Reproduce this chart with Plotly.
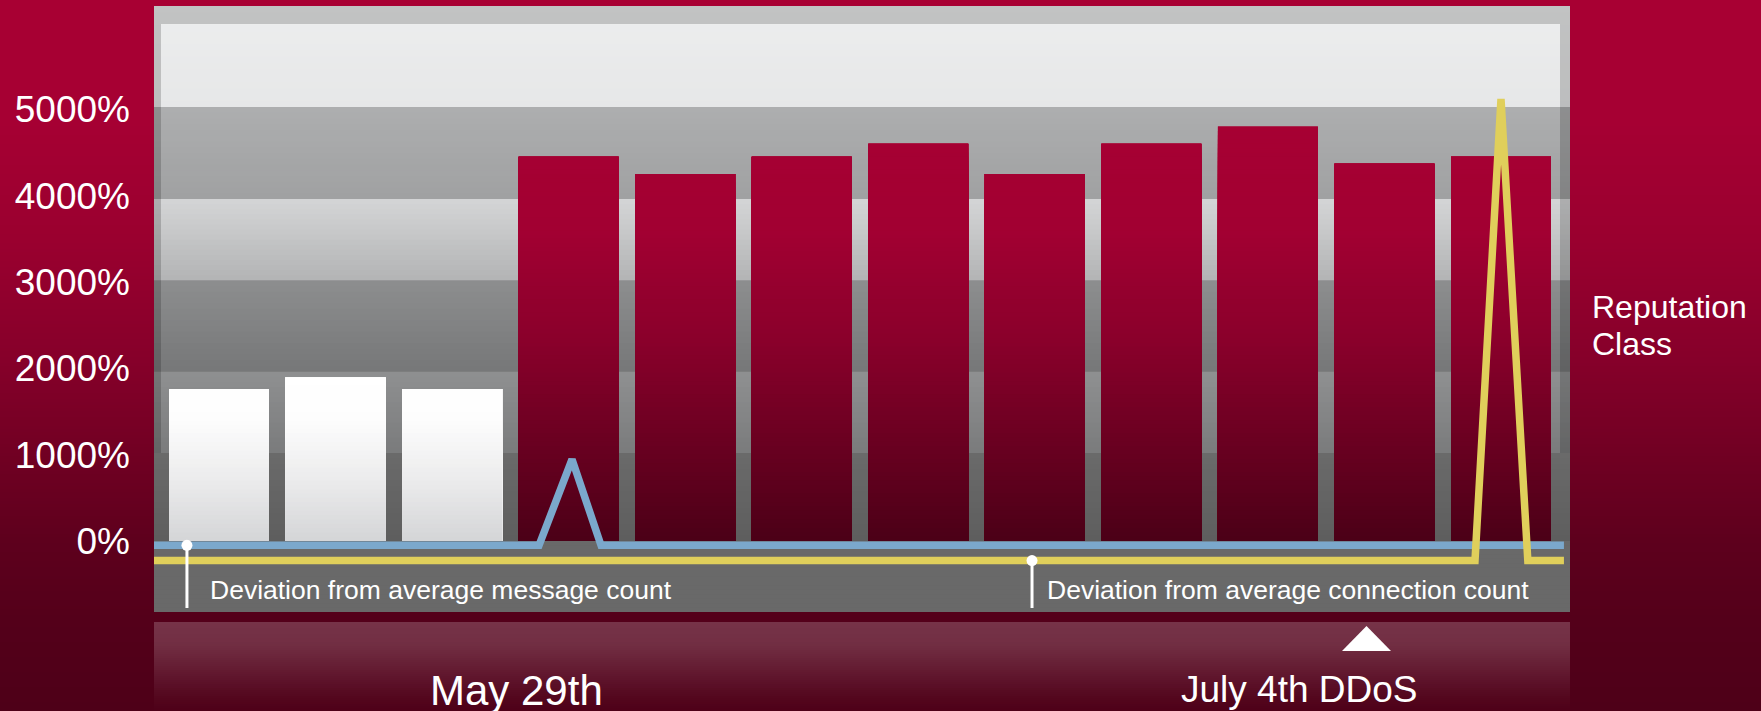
import plotly.graph_objects as go

# ---------------- data ----------------
bar_positions = list(range(12))
bar_values = [1760, 1890, 1760, 4450, 4250, 4450, 4600, 4250, 4600, 4800, 4370, 4450]
bar_class = ["neutral", "neutral", "neutral",
             "poor", "poor", "poor", "poor", "poor", "poor", "poor", "poor", "poor"]

msg_x = [-0.558, 2.746, 3.029, 3.278, 11.54]
msg_y = [-50, -50, 945, -50, -50]
conn_x = [-0.558, 10.777, 11.0, 11.23, 11.54]
conn_y = [-226, -226, 5120, -226, -226]

y_ticks = [0, 1000, 2000, 3000, 4000, 5000]
series_labels = ["Deviation from average message count",
                 "Deviation from average connection count"]
label_x = [-0.275, 6.976]
label_line_y = [-50, -226]
period_labels = ["May 29th", "July 4th DDoS"]
class_label = ["Reputation", "Class"]

# ---------------- geometry / style ----------------
W, H = 1761, 711
ML, MR, MT, MB = 154, 191, 6, 99
PW, PH = W - ML - MR, H - MT - MB
Y_RANGE = [-822, 6196]
X_RANGE = [-0.5577, 11.592]
FONT = "Liberation Sans, Arial, sans-serif"


def px_x(px):
    return (px - ML) / PW


def px_y(py):
    return (MT + PH - py) / PH


def hex2rgb(h):
    h = h.lstrip('#')
    return tuple(int(h[i:i + 2], 16) for i in (0, 2, 4))


def interp(stops, t):
    if t <= stops[0][0]:
        return hex2rgb(stops[0][1])
    if t >= stops[-1][0]:
        return hex2rgb(stops[-1][1])
    for (p0, c0), (p1, c1) in zip(stops, stops[1:]):
        if p0 <= t <= p1:
            f = (t - p0) / (p1 - p0)
            a, b = hex2rgb(c0), hex2rgb(c1)
            return tuple(round(a[i] + (b[i] - a[i]) * f) for i in range(3))


def interp_num(stops, t):
    if t <= stops[0][0]:
        return stops[0][1]
    if t >= stops[-1][0]:
        return stops[-1][1]
    for (p0, a0), (p1, a1) in zip(stops, stops[1:]):
        if p0 <= t <= p1:
            return a0 + (a1 - a0) * (t - p0) / (p1 - p0)


def rgb(c):
    return f"rgb({c[0]},{c[1]},{c[2]})"


shapes = []

# page background gradient (by pixel row); each slice runs to the bottom
bg_stops = [(0, '#a80033'), (120, '#a60033'), (240, '#9a002f'), (360, '#86002a'),
            (450, '#720023'), (540, '#5e001d'), (620, '#54001a'), (711, '#4e0018')]
step = 3
for py in range(0, H, step):
    shapes.append(dict(type='rect', xref='paper', yref='paper', layer='below',
                       x0=px_x(0), x1=px_x(W), y0=px_y(H), y1=px_y(py),
                       fillcolor=rgb(interp(bg_stops, py + step / 2)), line=dict(width=0)))

# lower timeline strip: white veil fading out, pre-blended into opaque colours
veil = [(622, 0.20), (645, 0.18), (665, 0.12), (685, 0.06), (700, 0.02), (711, 0.0)]
for py in range(622, H, 2):
    a = interp_num(veil, py + 1)
    b = interp(bg_stops, py + 1)
    c = tuple(round(b[i] * (1 - a) + 255 * a) for i in range(3))
    shapes.append(dict(type='rect', xref='paper', yref='paper', layer='below',
                       x0=0, x1=1, y0=px_y(H), y1=px_y(py),
                       fillcolor=rgb(c), line=dict(width=0)))

# grey panel bands (value ranges); each slice runs to the band bottom
bands = [(5025, 6196, '#edeeee', '#e6e7e8'),
         (3960, 5025, '#adaeaf', '#a0a1a2'),
         (3020, 3960, '#d4d5d6', '#b3b4b5'),
         (1960, 3020, '#8d8e8f', '#767778'),
         (1020, 1960, '#8f9091', '#7a7b7c'),
         (0, 1020, '#6a6a6a', '#5e5e5e'),
         (-822, 0, '#696969', '#696969')]
n = 16
for lo, hi, ctop, cbot in bands:
    for k in range(n):
        y1 = hi - (hi - lo) * k / n
        c = interp([(0, cbot), (1, ctop)], 1 - (k + 0.5) / n)
        shapes.append(dict(type='rect', xref='paper', yref='y', layer='below',
                           x0=0, x1=1, y0=lo, y1=y1,
                           fillcolor=rgb(c), line=dict(width=0)))

# frame strips (darkening overlay)
frame = "rgba(0,0,0,0.18)"
shapes.append(dict(type='rect', xref='paper', yref='y', layer='below', x0=0, x1=1,
                   y0=5988, y1=6196, fillcolor=frame, line=dict(width=0)))
shapes.append(dict(type='rect', xref='paper', yref='y', layer='below', x0=0, x1=px_x(161),
                   y0=1020, y1=5988, fillcolor=frame, line=dict(width=0)))
shapes.append(dict(type='rect', xref='paper', yref='y', layer='below', x0=px_x(1560), x1=1,
                   y0=1020, y1=5988, fillcolor=frame, line=dict(width=0)))

# triangle marker under the timeline
tx0, tx1, txm = px_x(1342), px_x(1391), px_x(1366.5)
ty0, ty1 = px_y(651), px_y(626)
shapes.append(dict(type='path', xref='paper', yref='paper', layer='above',
                   path=f"M {tx0} {ty0} L {tx1} {ty0} L {txm} {ty1} Z",
                   fillcolor='white', line=dict(width=0)))

fig = go.Figure()

# bars, drawn as stacked overlays to approximate a vertical gradient
red_stops = [(0, '#4b0017'), (1170, '#6b0021'), (2330, '#8a002b'), (3600, '#a20032'), (4900, '#a70033')]
white_stops = [(0, '#d4d5d7'), (700, '#ebebec'), (1400, '#fdfdfd'), (1900, '#ffffff')]
lvl_step = 50
top = max(bar_values) + lvl_step
levels = list(range(top, 0, -lvl_step))
for L in levels:
    ys = [min(v, L) for v in bar_values]
    cols = [rgb(interp(white_stops if c == "neutral" else red_stops, L - lvl_step / 2))
            for c in bar_class]
    fig.add_trace(go.Bar(x=bar_positions, y=ys, width=0.858,
                         marker=dict(color=cols, line=dict(width=0)), opacity=1,
                         hoverinfo='skip', showlegend=False))

fig.add_trace(go.Scatter(x=msg_x, y=msg_y, mode='lines',
                         line=dict(color='#7ba8cc', width=7.5), showlegend=False))
fig.add_trace(go.Scatter(x=conn_x, y=conn_y, mode='lines',
                         line=dict(color='#e0cf5b', width=7.5), showlegend=False))

lx, ly = [], []
for x, y in zip(label_x, label_line_y):
    lx += [x, x, None]
    ly += [y, -776, None]
fig.add_trace(go.Scatter(x=lx, y=ly, mode='lines', line=dict(color='white', width=3),
                         showlegend=False, hoverinfo='skip'))
fig.add_trace(go.Scatter(x=label_x, y=label_line_y, mode='markers',
                         marker=dict(color='white', size=11, line=dict(width=0)),
                         showlegend=False, hoverinfo='skip'))

annotations = []
text_x = [-0.094, 7.085]
for tx, txt in zip(text_x, series_labels):
    annotations.append(dict(x=tx, y=-567, xref='x', yref='y', text=txt, showarrow=False,
                            xanchor='left', yanchor='middle',
                            font=dict(family=FONT, size=26.5, color='white')))
annotations.append(dict(x=px_x(516), y=px_y(690), xref='paper', yref='paper',
                        text=period_labels[0], showarrow=False, xanchor='center',
                        yanchor='middle', font=dict(family=FONT, size=42, color='white')))
annotations.append(dict(x=px_x(1299), y=px_y(689), xref='paper', yref='paper',
                        text=period_labels[1], showarrow=False, xanchor='center',
                        yanchor='middle', font=dict(family=FONT, size=37, color='white')))
for yy, txt in zip([306.5, 344], class_label):
    annotations.append(dict(x=px_x(1590), y=px_y(yy), xref='paper', yref='paper',
                            text=txt, showarrow=False, xanchor='left', yanchor='middle',
                            font=dict(family=FONT, size=32, color='white')))

fig.update_layout(
    width=W, height=H, autosize=False,
    margin=dict(l=ML, r=MR, t=MT, b=MB, pad=0),
    paper_bgcolor='#4e0018', plot_bgcolor='rgba(0,0,0,0)',
    barmode='overlay', showlegend=False,
    shapes=shapes, annotations=annotations,
    xaxis=dict(range=X_RANGE, showgrid=False, zeroline=False, showticklabels=False,
               showline=False, ticks=''),
    yaxis=dict(range=Y_RANGE, showgrid=False, zeroline=False, showline=False,
               tickvals=y_ticks, ticktext=[f"{v}%" for v in y_ticks], ticks='',
               ticklabelstandoff=23,
               tickfont=dict(family=FONT, size=37, color='white')),
)

fig.write_html("out.html")
